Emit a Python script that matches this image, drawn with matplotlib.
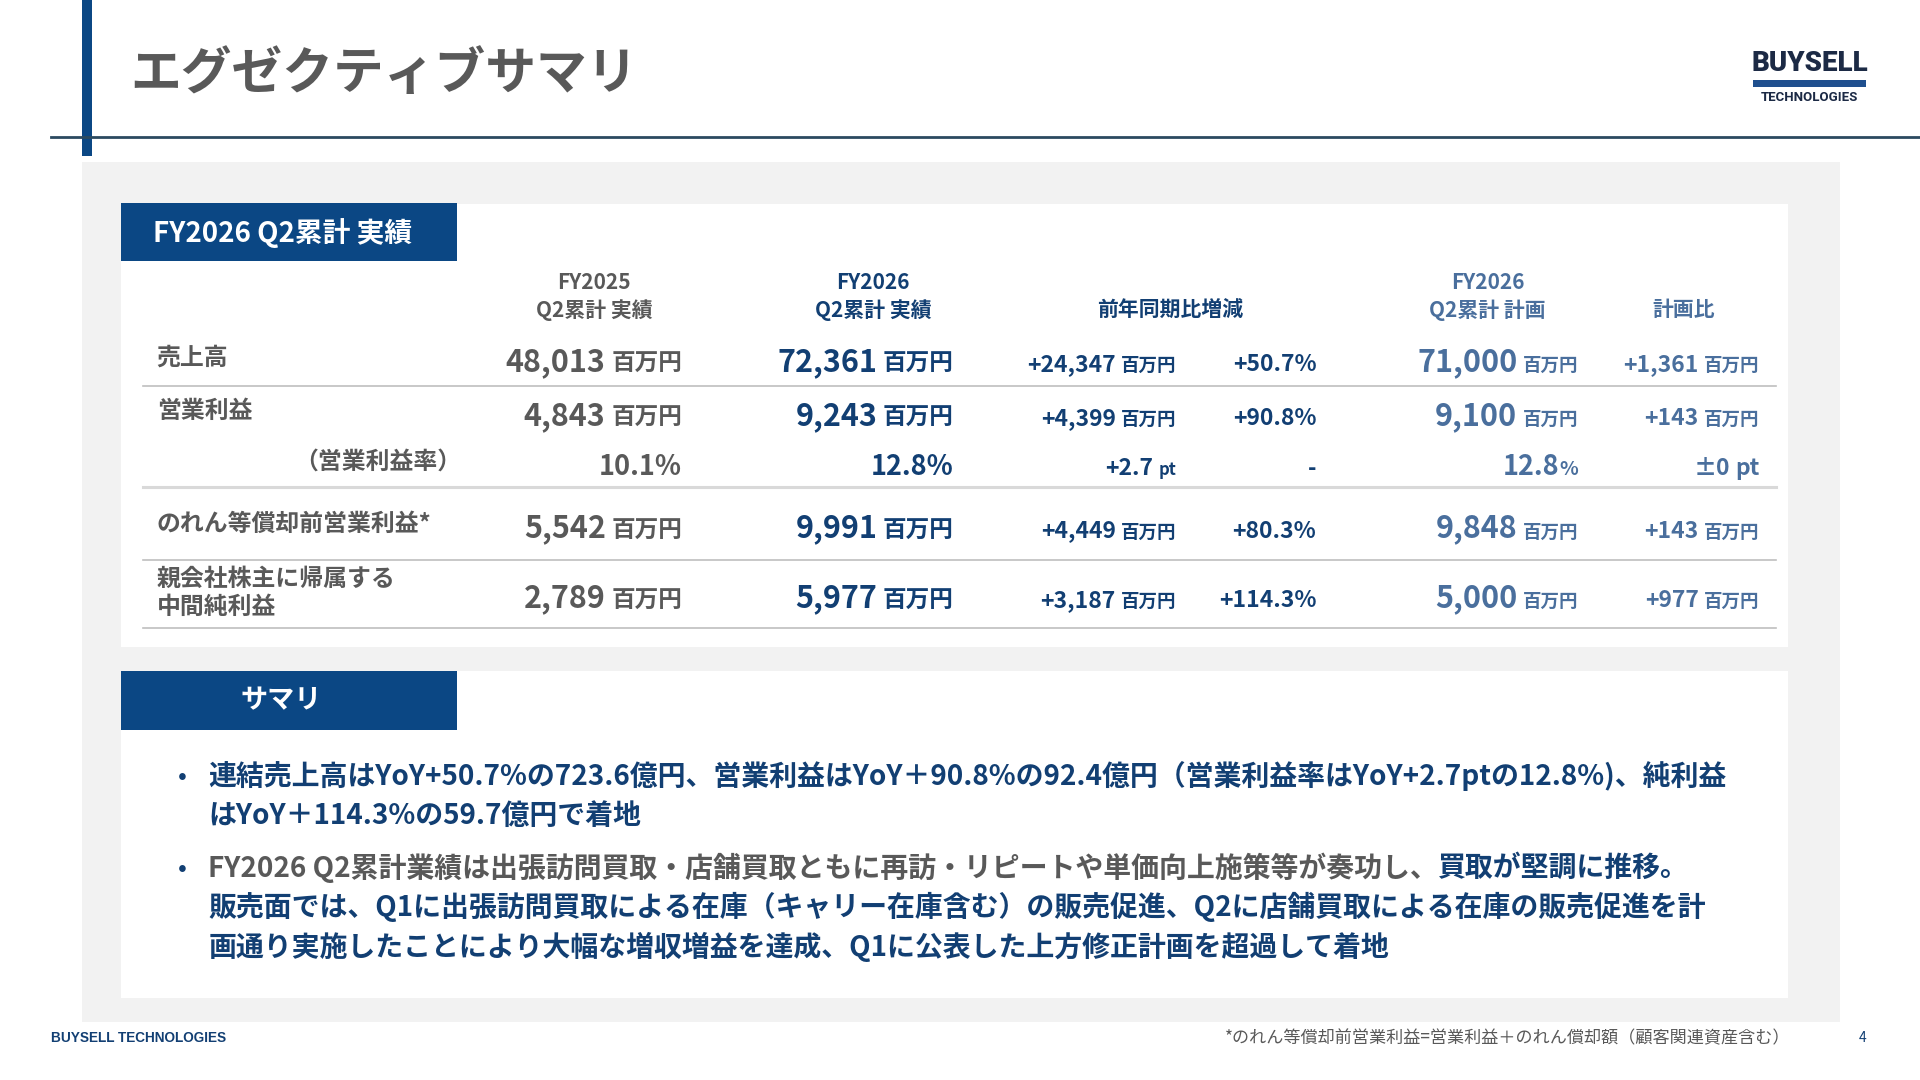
import matplotlib
matplotlib.use('Agg')
import matplotlib.pyplot as plt
from matplotlib.patches import Rectangle

plt.rcParams['font.family'] = ['Noto Sans CJK JP', 'DejaVu Sans']

# ---- data ----
title = 'エグゼクティブサマリ'
table_tag = 'FY2026 Q2累計 実績'
summary_tag = 'サマリ'

col_heads = [['FY2025', 'Q2累計 実績'], ['FY2026', 'Q2累計 実績'], ['', '前年同期比増減'],
             ['FY2026', 'Q2累計 計画'], ['', '計画比']]
row_labels = ['売上高', '営業利益', '（営業利益率）', 'のれん等償却前営業利益*', '親会社株主に帰属する\n中間純利益']

fy2025 = [48013, 4843, 10.1, 5542, 2789]
fy2026 = [72361, 9243, 12.8, 9991, 5977]
yoy_diff = [24347, 4399, 2.7, 4449, 3187]
yoy_pct = [50.7, 90.8, None, 80.3, 114.3]
plan = [71000, 9100, 12.8, 9848, 5000]
plan_diff = [1361, 143, 0, 143, 977]
margin_row = 2

bullet1 = ['連結売上高はYoY+50.7%の723.6億円、営業利益はYoY＋90.8%の92.4億円（営業利益率はYoY+2.7ptの12.8%)、純利益',
           'はYoY＋114.3%の59.7億円で着地']
bullet2_gray = 'FY2026 Q2累計業績は出張訪問買取・店舗買取ともに再訪・リピートや単価向上施策等が奏功し、'
bullet2_blue = '買取が堅調に推移。'
bullet2_rest = ['販売面では、Q1に出張訪問買取による在庫（キャリー在庫含む）の販売促進、Q2に店舗買取による在庫の販売促進を計',
                '画通り実施したことにより大幅な増収増益を達成、Q1に公表した上方修正計画を超過して着地']
footnote = '*のれん等償却前営業利益=営業利益＋のれん償却額（顧客関連資産含む）'

# ---- colours ----
NAVY = '#0b4784'
TNAVY = '#123f73'
GRAY = '#595959'
STEEL = '#4a6f9d'
PANEL = '#f2f2f2'

W, H = 1568, 882
fig = plt.figure(figsize=(19.2, 10.8), dpi=100)
ax = fig.add_axes([0, 0, 1, 1])
ax.set_xlim(0, W)
ax.set_ylim(H, 0)
ax.axis('off')

def rect(x0, y0, x1, y1, c):
    ax.add_patch(Rectangle((x0, y0), x1 - x0, y1 - y0, color=c, lw=0))

# header
rect(67, 0, 75, 127, NAVY)
ax.plot([42, W], [112, 112], color='#2b4a60', lw=2)
ax.text(106, 61, title, fontsize=36.5, fontweight='bold', color=GRAY, va='center')

# logo
ax.text(1478, 52, 'BUYSELL', fontsize=20, fontweight='black', family='Roboto',
        color='#1c2a45', ha='center', va='center')
rect(1432, 65, 1524, 71, '#1f4f8e')
ax.text(1478, 80, 'TECHNOLOGIES', fontsize=9.5, fontweight='bold', family='Roboto',
        color='#1c2a45', ha='center', va='center')

# panels
rect(67, 132, 1503, 835, PANEL)
rect(99, 167, 1460, 528, 'white')
rect(99, 548, 1460, 815, 'white')
rect(99, 166, 373, 213, NAVY)
ax.text(125, 190, table_tag, fontsize=20, fontweight='bold', color='white', va='center')
rect(99, 548, 373, 596, NAVY)
ax.text(230, 572, summary_tag, fontsize=19.5, fontweight='bold', color='white', va='center', ha='center')

# column headers
head_x = [485, 713, 956, 1215, 1375]
head_c = [GRAY, TNAVY, TNAVY, STEEL, STEEL]
for hx, hc, (l1, l2) in zip(head_x, head_c, col_heads):
    if l1:
        ax.text(hx, 231, l1, fontsize=15, fontweight='bold', color=hc, ha='center', va='center')
    ax.text(hx, 253, l2, fontsize=15, fontweight='bold', color=hc, ha='center', va='center')

# rows
label_y = [292, 336, 377, 428, 484]
base_y = [303, 347, 388, 439, 496]
for i, lab in enumerate(row_labels):
    lx = 240 if i == margin_row else 128
    ax.text(lx, label_y[i], lab, fontsize=17.2, fontweight='bold', color=GRAY, va='center',
            linespacing=1.2)

for y, c, lw in [(315, '#bfbfbf', 1.2), (398, '#d9d9d9', 2.2), (457, '#bfbfbf', 1.2), (513, '#bfbfbf', 1.2)]:
    ax.plot([117, 1450], [y, y], color=c, lw=lw)


def num_unit(xr, yb, num, unit, color, nsize, usize, gap=4):
    u = ax.text(xr, yb, unit, ha='right', va='baseline', fontsize=usize, color=color, fontweight='bold')
    ax.annotate(num, xy=(0, yb), xycoords=(u, 'data'), xytext=(-gap, 0), textcoords='offset points',
                ha='right', va='baseline', fontsize=nsize, color=color, fontweight='bold')


BIG, MID, SMU = 22, 16.5, 13.3
for i in range(len(row_labels)):
    yb = base_y[i]
    if i == margin_row:
        ax.text(557, yb, f'{fy2025[i]:.1f}%', ha='right', va='baseline', fontsize=19.5, color=GRAY, fontweight='bold')
        ax.text(779, yb, f'{fy2026[i]:.1f}%', ha='right', va='baseline', fontsize=19.5, color=TNAVY, fontweight='bold')
        num_unit(961, yb, f'+{yoy_diff[i]:.1f}', 'pt', TNAVY, MID, 12)
        ax.text(1075, yb, '-', ha='right', va='baseline', fontsize=MID, color=TNAVY, fontweight='bold')
        num_unit(1289, yb, f'{plan[i]:.1f}', '%', STEEL, 19.5, 14, gap=0)
        num_unit(1437, yb, f'±{plan_diff[i]}', 'pt', STEEL, MID, MID)
    else:
        num_unit(557, yb, f'{fy2025[i]:,}', '百万円', GRAY, BIG, 17)
        num_unit(779, yb, f'{fy2026[i]:,}', '百万円', TNAVY, BIG, 17)
        num_unit(961, yb, f'+{yoy_diff[i]:,}', '百万円', TNAVY, MID, SMU)
        ax.text(1075, yb, f'+{yoy_pct[i]:.1f}%', ha='right', va='baseline', fontsize=MID, color=TNAVY, fontweight='bold')
        num_unit(1289, yb, f'{plan[i]:,}', '百万円', STEEL, BIG, SMU)
        num_unit(1437, yb, f'+{plan_diff[i]:,}', '百万円', STEEL, MID, SMU)

# summary bullets
BS = 20.1
ax.text(149, 634, '•', fontsize=19, color=TNAVY, va='center', ha='center')
for j, line in enumerate(bullet1):
    ax.text(170, 634 + 32 * j, line, fontsize=BS, fontweight='bold', color=TNAVY, va='center')
ax.text(149, 709, '•', fontsize=19, color=TNAVY, va='center', ha='center')
g = ax.text(170, 709, bullet2_gray, fontsize=BS, fontweight='bold', color=GRAY, va='center')
ax.annotate(bullet2_blue, xy=(1, 709), xycoords=(g, 'data'), ha='left', va='center',
            fontsize=BS, fontweight='bold', color=TNAVY)
for j, line in enumerate(bullet2_rest):
    ax.text(170, 741 + 32 * j, line, fontsize=BS, fontweight='bold', color=TNAVY, va='center')

# footer
ax.text(42, 848, 'BUYSELL TECHNOLOGIES', fontsize=9.8, fontweight='bold', family='Liberation Sans',
        color=TNAVY, va='center')
ax.text(1462, 848, footnote, fontsize=12.3, color=GRAY, va='center', ha='right')
ax.text(1521, 848, '4', fontsize=10, color=TNAVY, va='center', ha='center')

fig.savefig('out.png', dpi=100)
